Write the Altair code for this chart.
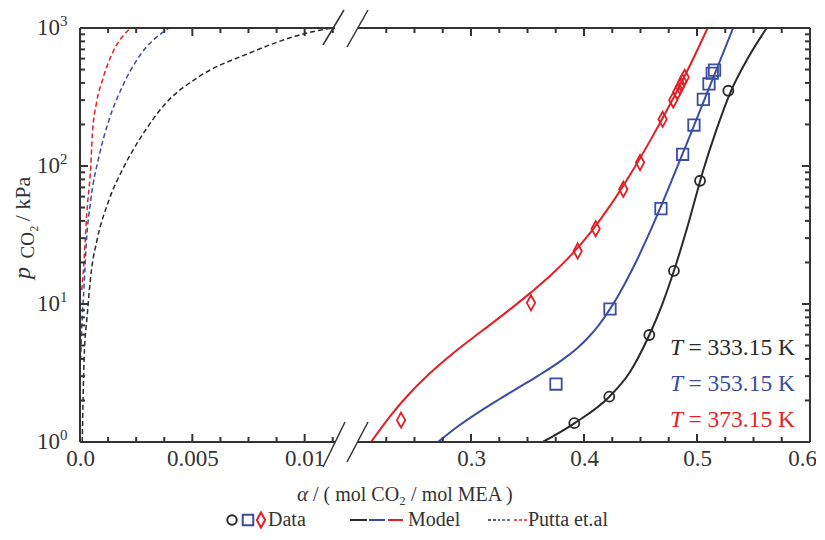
import altair as alt
import pandas as pd

# ---------------- data ----------------
series = ["333.15 K", "353.15 K", "373.15 K"]
colors = ["#2a2a2a", "#3a4d9f", "#e41e25"]

# experimental data
d333_x = [0.3914, 0.4224, 0.4578, 0.4796, 0.5027, 0.5277]
d333_p = [1.37, 2.13, 5.96, 17.4, 78.2, 351]
d353_x = [0.3752, 0.4230, 0.4681, 0.4873, 0.4973, 0.5056, 0.5106, 0.5135, 0.5155]
d353_p = [2.63, 9.2, 49.1, 121.6, 198, 304, 393, 470, 495]
d373_x = [0.2381, 0.3531, 0.3944, 0.4103, 0.4348, 0.4496, 0.4696, 0.4790, 0.4826, 0.4850, 0.4870, 0.4891]
d373_p = [1.44, 10.2, 24.2, 35.1, 67.8, 106, 218, 301, 345, 376, 408, 439]

# model curves
m333_x = [0.3635, 0.3914, 0.4224, 0.4407, 0.4578, 0.4690, 0.4796, 0.4920, 0.5056, 0.5168, 0.5292, 0.5451, 0.5617]
m333_p = [1.0, 1.366, 2.13, 3.22, 5.96, 9.83, 17.4, 37.4, 93.6, 179, 336, 606, 1000]
m353_x = [0.2708, 0.2885, 0.3062, 0.3239, 0.3416, 0.3593, 0.3770, 0.3947, 0.4035, 0.4124, 0.4212,
          0.4301, 0.4389, 0.4478, 0.4566, 0.4743, 0.4920, 0.5097, 0.5320]
m353_p = [1.0, 1.300, 1.633, 2.015, 2.466, 3.018, 3.742, 4.839, 5.690, 6.917, 8.737,
          11.45, 15.51, 21.65, 31.0, 67.45, 153.0, 350.2, 1000]
m373_x = [0.2115, 0.2292, 0.2469, 0.2646, 0.2823, 0.3000, 0.3177, 0.3354, 0.3531, 0.3708, 0.3885,
          0.4062, 0.4239, 0.4416, 0.4593, 0.4770, 0.4947, 0.5094]
m373_p = [1.0, 1.569, 2.303, 3.200, 4.270, 5.550, 7.150, 9.262, 12.14, 16.22, 22.58,
          33.37, 52.69, 88.67, 156.6, 288.6, 555.8, 1000]

# Putta et al. curves
p333_x = [0.0001, 0.00018, 0.00033, 0.00051, 0.00076, 0.00129, 0.00188, 0.00263, 0.00382, 0.0053,
          0.00752, 0.01005, 0.01122]
p333_p = [1.0, 3.9, 8.6, 17.6, 29.1, 56.7, 93.5, 154, 285, 444, 656, 916, 1000]
p353_x = [0.00003, 0.00008, 0.00018, 0.00028, 0.00048, 0.00085, 0.00129, 0.00188, 0.00263, 0.00396]
p353_p = [3.9, 6.8, 13.3, 27.5, 56.7, 118, 215, 375, 620, 1000]
p373_x = [0.00008, 0.00018, 0.0003, 0.00048, 0.00055, 0.00073, 0.001, 0.00144, 0.00226]
p373_p = [12.6, 20.8, 45, 100, 170, 284, 420, 656, 1000]

# ticks
x_labels = [0.0, 0.005, 0.01, 0.3, 0.4, 0.5, 0.6]
x_major = [0.0, 0.005, 0.01, 0.3, 0.4, 0.5]
x_minor = [0.00125, 0.0025, 0.00375, 0.00625, 0.0075, 0.00875, 0.01125,
           0.225, 0.25, 0.275, 0.325, 0.35, 0.375, 0.425, 0.45, 0.475, 0.525, 0.55, 0.575]
y_major = [1, 10, 100, 1000]
y_minor = [2, 3, 4, 5, 6, 7, 8, 9, 20, 30, 40, 50, 60, 70, 80, 90, 200, 300, 400, 500, 600, 700, 800, 900]
y_exp = ["0", "1", "2", "3"]

# ---------------- style ----------------
FONT = "Liberation Serif"
AX = "#333333"
W, H = 730, 414
B1, B2 = 255, 278          # broken-axis pixel edges
ysc = alt.Scale(type="log", domain=[1, 1000], nice=False)
xsc = alt.Scale(domain=[0, 0.01135, 0.2, 0.6], range=[0, B1, B2, W], nice=False, zero=False)
DIAMOND = "M0,-1L0.55,0L0,1L-0.55,0Z"
one = pd.DataFrame({"a": [0]})

xaxis = alt.Axis(values=x_labels,
                 labelExpr="datum.value==0?'0.0':(datum.value<0.1?format(datum.value,'~g'):format(datum.value,'.1f'))",
                 domain=False, ticks=False, grid=False, title=None, labelFont=FONT, labelFontSize=23,
                 labelColor=AX, labelPadding=5, labelFlush=False, labelOverlap=False,
                 labelOffset={"condition": {"test": "datum.value > 0.55", "value": -8}, "value": 0})


def X(f):
    return alt.X(f, type="quantitative", scale=xsc, axis=xaxis)


def Y(f):
    return alt.Y(f, type="quantitative", scale=ysc, axis=None)


def seg(x, x2, y, y2, color=AX, sw=2.0, dash=None):
    kw = dict(color=color, strokeWidth=sw)
    if dash:
        kw["strokeDash"] = dash
    return alt.Chart(one).mark_rule(**kw).encode(x=alt.value(x), x2=alt.value(x2), y=alt.value(y), y2=alt.value(y2))


def txt(s, x, y, size=20, color=AX, style="normal", align="left", angle=0):
    kw = dict(text=s, font=FONT, fontSize=size, color=color, fontStyle=style, align=align, baseline="middle")
    if angle:
        kw["angle"] = angle
    return alt.Chart(one).mark_text(**kw).encode(x=alt.value(x), y=alt.value(y))


layers = []

# Putta et al. (dashed)
for xs, ps, c in [(p333_x, p333_p, colors[0]), (p353_x, p353_p, colors[1]), (p373_x, p373_p, colors[2])]:
    df = pd.DataFrame({"x": xs, "p": ps})
    layers.append(alt.Chart(df).mark_line(color=c, strokeWidth=1.5, strokeDash=[5, 3],
                                          interpolate="monotone", clip=True)
                  .encode(x=X("x"), y=Y("p")))

# model (solid)
for xs, ps, c in [(m333_x, m333_p, colors[0]), (m353_x, m353_p, colors[1]), (m373_x, m373_p, colors[2])]:
    df = pd.DataFrame({"x": xs, "p": ps})
    layers.append(alt.Chart(df).mark_line(color=c, strokeWidth=2, interpolate="monotone", clip=True)
                  .encode(x=X("x"), y=Y("p")))

# data points
for xs, ps, c, shp, sz in [(d333_x, d333_p, colors[0], "circle", 100),
                           (d353_x, d353_p, colors[1], "square", 130),
                           (d373_x, d373_p, colors[2], DIAMOND, 230)]:
    df = pd.DataFrame({"x": xs, "p": ps})
    layers.append(alt.Chart(df).mark_point(shape=shp, size=sz, filled=False, strokeWidth=1.8,
                                           color=c, opacity=1)
                  .encode(x=X("x"), y=Y("p")))

# inward ticks
for vals, ln in [(x_major, 8), (x_minor, 5)]:
    df = pd.DataFrame({"v": vals})
    layers.append(alt.Chart(df).mark_rule(color=AX, strokeWidth=2)
                  .encode(x=X("v"), y=alt.value(H), y2=alt.value(H - ln)))
    layers.append(alt.Chart(df).mark_rule(color=AX, strokeWidth=2)
                  .encode(x=X("v"), y=alt.value(0), y2=alt.value(ln)))
for vals, ln in [(y_major, 8), (y_minor, 5)]:
    df = pd.DataFrame({"v": vals})
    layers.append(alt.Chart(df).mark_rule(color=AX, strokeWidth=2)
                  .encode(y=Y("v"), x=alt.value(0), x2=alt.value(ln)))
    layers.append(alt.Chart(df).mark_rule(color=AX, strokeWidth=2)
                  .encode(y=Y("v"), x=alt.value(W), x2=alt.value(W - ln)))

# y tick labels (10 with superscript exponent)
ydf = pd.DataFrame({"v": y_major, "e": y_exp})
layers.append(alt.Chart(ydf).mark_text(text="10", font=FONT, fontSize=23, color=AX, align="right",
                                       baseline="middle", dx=-20).encode(y=Y("v"), x=alt.value(0)))
layers.append(alt.Chart(ydf).mark_text(font=FONT, fontSize=15, color=AX, align="left",
                                       baseline="middle", dx=-20, dy=-7)
              .encode(y=Y("v"), x=alt.value(0), text="e:N"))

# frame (broken)
layers += [seg(0, 0, 0, H), seg(W, W, 0, H),
           seg(0, B1, 0, 0), seg(0, B1, H, H), seg(B2, W, 0, 0), seg(B2, W, H, H)]
# break marks
layers += [seg(B1 - 12, B1 + 10, H + 25, H - 20, sw=1.5), seg(B1 - 12, B1 + 9, 17, -18, sw=1.5),
           seg(B2 - 11, B2 + 10, H + 20, H - 20, sw=1.5), seg(B2 - 11, B2 + 10, 19, -18, sw=1.5)]

# y title
layers += [txt("p", -57, 245, size=24, style="italic", align="center", angle=270),
           txt("CO₂", -52, 214, size=19, align="center", angle=270),
           txt("/ kPa", -57, 171, size=22, align="center", angle=270)]
# x title
layers += [txt("α", 217, 467, size=21, style="italic"),
           txt("/ ( mol CO₂ / mol MEA )", 233, 467, size=20)]

# temperature annotations
for i, (s, c) in enumerate(zip(series, colors)):
    yy = 320 + 36 * i
    layers += [txt("T", 590, yy, size=23.5, color=c, style="italic"),
               txt("= " + s, 715, yy, size=23.5, color=c, align="right")]

# legend
LY = 492
layers += [
    alt.Chart(one).mark_point(shape="circle", size=90, filled=False, strokeWidth=2, color=colors[0], opacity=1)
    .encode(x=alt.value(152), y=alt.value(LY)),
    alt.Chart(one).mark_point(shape="square", size=110, filled=False, strokeWidth=2, color=colors[1], opacity=1)
    .encode(x=alt.value(168), y=alt.value(LY)),
    alt.Chart(one).mark_point(shape=DIAMOND, size=230, filled=False, strokeWidth=2, color=colors[2], opacity=1)
    .encode(x=alt.value(181), y=alt.value(LY)),
    txt("Data", 188, LY, size=20),
    seg(270, 287, LY, LY, color=colors[0], sw=2),
    seg(289, 305, LY, LY, color=colors[1], sw=2),
    seg(308, 323, LY, LY, color=colors[2], sw=2),
    txt("Model", 328, LY, size=20),
    seg(408, 420, LY, LY, color=colors[0], sw=1.5, dash=[3, 2]),
    seg(422, 432, LY, LY, color=colors[1], sw=1.5, dash=[3, 2]),
    seg(434, 447, LY, LY, color=colors[2], sw=1.5, dash=[3, 2]),
    txt("Putta et.al", 448, LY, size=20),
]

chart = (alt.layer(*layers)
         .properties(width=W, height=H, autosize=alt.AutoSizeParams(type="none"),
                     padding={"left": 72, "top": 20, "right": 6, "bottom": 88})
         .configure_view(stroke=None))

chart.save("out.html", embed_options={"renderer": "svg", "actions": False})
